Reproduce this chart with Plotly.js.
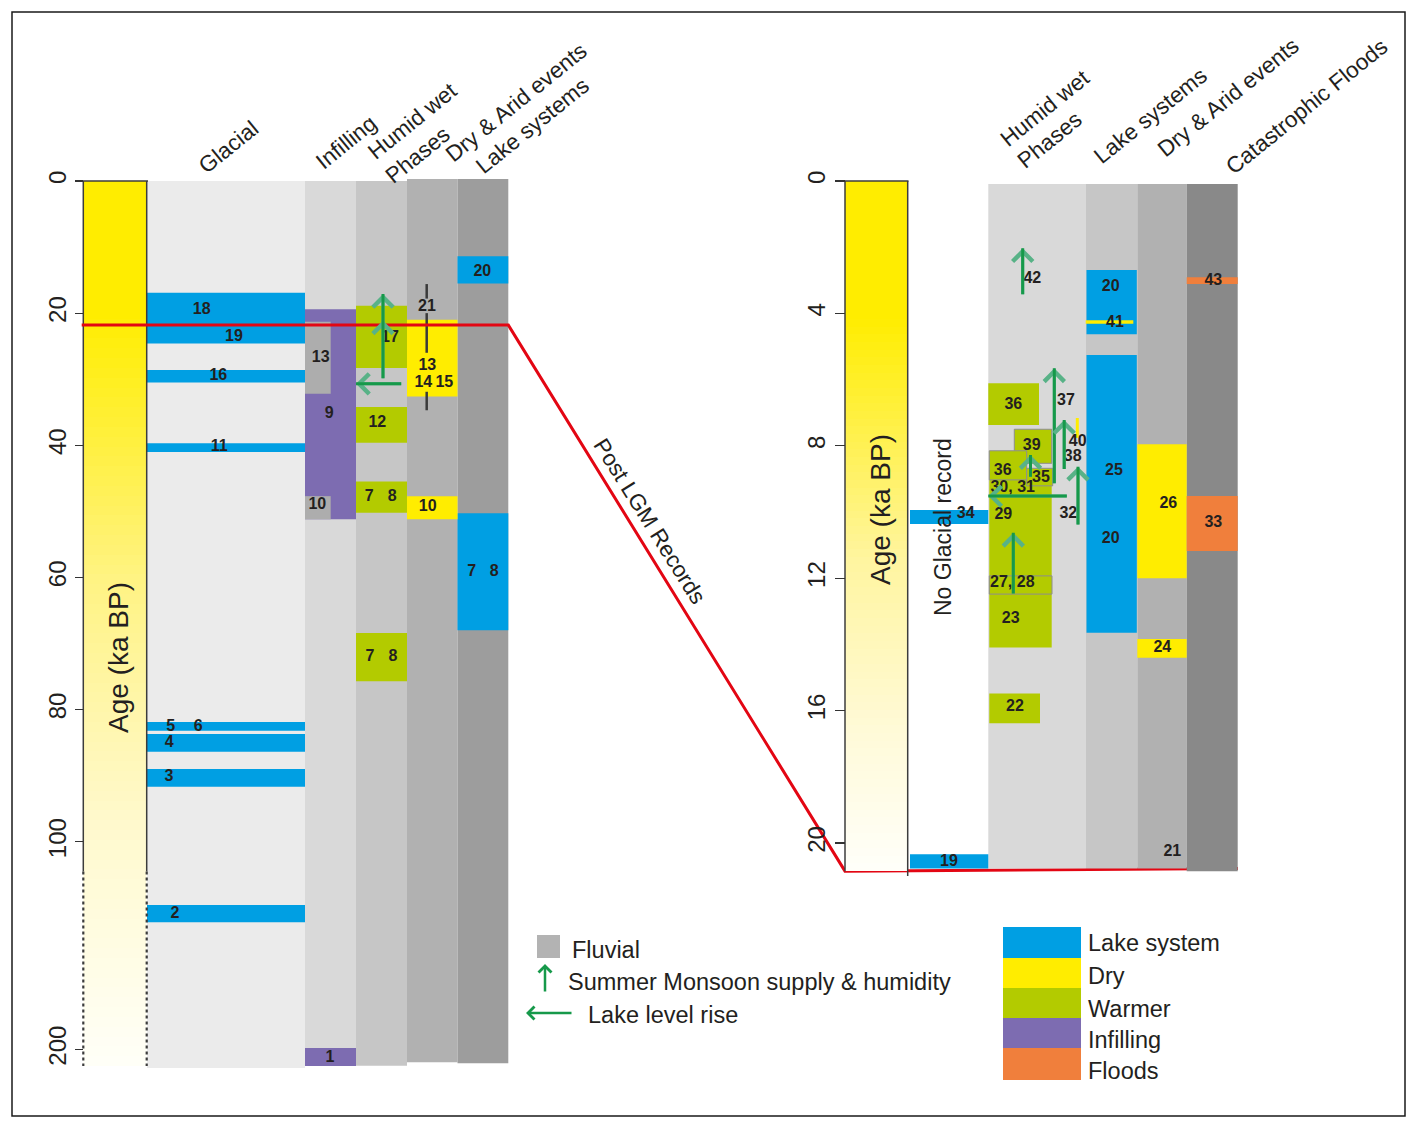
<!DOCTYPE html>
<html>
<head>
<meta charset="utf-8">
<script src="https://cdn.plot.ly/plotly-3.0.1.min.js"></script>
<style>
html,body{margin:0;padding:0;background:#fff;}
#chart{width:1417px;height:1128px;}
</style>
</head>
<body>
<div id="chart"></div>
<script>
// ======================= DATA (ages in ka BP) =======================
// ---- Left panel: full record 0–200 ka (axis compressed beyond 100 ka)
const leftTicks = [0, 20, 40, 60, 80, 100, 200];
const leftColumns = ['Glacial', 'Infilling', 'Humid wet Phases', 'Dry & Arid events', 'Lake systems'];
const leftColumnTop = [0, 0, 0, -0.3, -0.3];
const leftColumnBottom = [209, 208, 207.9, 206.3, 206.7];

const leftLakeColumn = [0, 0, 0, 0, 0, 0, 0, 0, 4, 4];
const leftLakeStart  = [16.9, 21.8, 28.6, 39.7, 81.9, 83.7, 89.0, 130.5, 11.4, 50.3];
const leftLakeEnd    = [21.8, 24.6, 30.5, 41.0, 83.2, 86.4, 91.7, 138.8, 15.5, 68.0];

const leftDryStart = [21.0, 47.7];
const leftDryEnd   = [32.6, 51.2];

const leftWarmStart = [18.9, 34.2, 45.5, 68.4];
const leftWarmEnd   = [28.3, 39.6, 50.2, 75.7];

const leftInfillStart = [19.4, 199.4];
const leftInfillEnd   = [51.2, 208.0];

const leftFluvialStart = [21.3, 47.7];
const leftFluvialEnd   = [32.2, 51.2];

const leftRangeStart = [15.6, 20.0, 31.9];   // age span of record 21
const leftRangeEnd   = [17.8, 26.0, 34.7];

const leftMonsoonFrom = [30.1];
const leftMonsoonTo   = [17.1];
const leftMonsoonEcho = [21.1];
const leftLakeRiseAge = [30.7];

const leftLabels   = ['18','19','16','11','5','6','4','3','2','13','9','10','1','17','12','7','8','7','8','21','13','14','15','10','20','7','8'];
const leftLabelAge = [19.5,23.6,29.5,40.3,82.7,82.6,85.1,90.2,135.0,26.8,35.3,49.1,204.0,23.7,36.6,47.8,47.8,72.0,72.0,19.1,28.0,30.5,30.5,49.4,13.7,59.2,59.2];

// ---- Right panel: post-LGM record 0–21 ka
const rightTicks = [0, 4, 8, 12, 16, 20];
const rightColumns = ['Humid wet Phases', 'Lake systems', 'Dry & Arid events', 'Catastrophic Floods'];
const rightColumnTop = [0.09, 0.09, 0.09, 0.09];
const rightColumnBottom = [20.77, 20.77, 20.77, 20.85];

const rightLakeStart = [9.94, 20.34, 2.69, 5.26];
const rightLakeEnd   = [10.36, 20.77, 4.63, 13.65];

const rightDryStart = [4.21, 7.95, 13.84];
const rightDryEnd   = [4.31, 12.0, 14.40];

const rightFloodStart = [2.91, 9.52];
const rightFloodEnd   = [3.11, 11.18];

const rightWarmStart = [9.03, 6.11, 7.50, 8.15, 8.68, 11.93, 15.48];
const rightWarmEnd   = [14.09, 7.37, 8.53, 9.03, 9.21, 12.48, 16.38];

const rightMonsoonFrom = [3.47, 9.18, 8.75, 10.42, 8.98, 12.51];
const rightMonsoonTo   = [2.03, 5.66, 7.22, 8.63, 8.28, 10.63];
const rightLakeRiseAge = [9.52];
const rightDryMarkStart = [7.16];   // record 40
const rightDryMarkEnd   = [7.76];

const rightLabels   = ['42','20','41','43','36','37','39','40','38','36','35','30, 31','29','32','34','25','20','26','33','27, 28','23','24','22','21','19'];
const rightLabelAge = [2.96,3.19,4.28,3.01,6.77,6.64,8.0,7.88,8.35,8.75,8.98,9.28,10.09,10.06,10.06,8.75,10.82,9.76,10.34,12.15,13.24,14.12,15.9,20.26,20.56];

// LGM connector
const lgmLeftAge = 21.8;
const lgmRightAge = [20.85, 20.77];

// Legend
const legendNames  = ['Lake system', 'Dry', 'Warmer', 'Infilling', 'Floods'];

// ======================= LAYOUT / STYLE =======================
const W = 1417, H = 1128, TOP = 181;
const L_PX = 6.607, BREAK = 100, COMPRESS = 0.3142, R_PX = 33.1;
const FONT = '"Liberation Sans", Arial, Helvetica, sans-serif';
const INK = '#231F20';
const C = {lake:'#009FE3', dry:'#FFED00', warm:'#B3CB00', infill:'#7D6CB1', flood:'#F07F3C', fluvial:'#ADADAD'};
const legendColors = [C.lake, C.dry, C.warm, C.infill, C.flood];

const fL = a => a <= BREAK ? a : BREAK + (a - BREAK) * COMPRESS;
const yRangeL = [(H - TOP) / L_PX, -TOP / L_PX];
const yRangeR = [(H - TOP) / R_PX, -TOP / R_PX];
const rToL = v => { const p = (v - yRangeR[1]) / (yRangeR[0] - yRangeR[1]); return yRangeL[1] + p * (yRangeL[0] - yRangeL[1]); };
const PX = x => x / W, PY = y => 1 - y / H;

const LCOL = [[147,305],[305,356],[356,407],[407,457.5],[457.5,508.3]];
const LCOL_BG = ['#EBEBEB','#D9D9D9','#C6C6C6','#B1B1B1','#9D9D9D'];
const RCOL = [[988.3,1086],[1086,1137.3],[1137.3,1186.7],[1186.7,1237.7]];
const RCOL_BG = ['#D9D9D9','#C6C6C6','#B1B1B1','#898989'];
const R_LAKE_X = [[910,988.3],[910,988.3],[1086.5,1136.8],[1086.5,1136.8]];
const R_DRY_X = [[1085.7,1133.3],[1137.3,1186.7],[1137.3,1186.7]];
const R_FLOOD_X = [[1186.7,1237.7],[1186.7,1237.7]];
const R_WARM_X = [[989.3,1051.7],[988.3,1039],[1014.3,1051.7],[989.3,1026.7],[1026.7,1052.7],[989.3,1052],[989.3,1040]];
const R_WARM_OUTLINE = [false,false,true,true,true,true,false];
const leftLabelX = [201.7,234,218.3,219.3,170.7,198.3,169.3,169,175,320.7,329.3,317.3,330,390,377.3,369.3,392.3,370,393,427,427.3,423.3,444.3,427.7,482.3,471.7,494.3];
const rightLabelX = [1032.3,1110.7,1115,1213.3,1013.3,1066,1031.7,1077.7,1072.7,1002.7,1041,1012.7,1003.3,1068.3,965.7,1114,1110.7,1168.3,1213.3,1012.3,1010.7,1162.3,1015,1172.3,949];
const leftMonsoonX = [383];
const rightMonsoonX = [1022.7, 1054.3, 1064.2, 1078.0, 1030.5, 1013.3];

function rects(xs, starts, ends, color, yaxis, tf, outline) {
  tf = tf || (a => a);
  return {
    type: 'bar', xaxis: 'x', yaxis: yaxis,
    x: xs.map(e => (e[0] + e[1]) / 2), width: xs.map(e => e[1] - e[0]),
    base: starts.map(tf), y: starts.map((s, i) => tf(ends[i]) - tf(s)),
    marker: {color: color, line: outline ? {color: outline.color, width: outline.width} : {width: 0}},
    hoverinfo: 'skip', showlegend: false, textposition: 'none'
  };
}
function gradient(x0, x1, yTop, yBot, yaxis, scale) {
  const N = 90, ys = [], z = [];
  for (let i = 0; i <= N; i++) ys.push(yTop + (yBot - yTop) * i / N);
  for (let i = 0; i < N; i++) z.push([(i + 0.5) / N]);
  return {type:'heatmap', x:[x0, x1], y: ys, z: z, zmin:0, zmax:1, colorscale: scale, showscale:false, hoverinfo:'skip', xaxis:'x', yaxis: yaxis};
}
function line(xs, ys, yaxis, color, width, dash) {
  return {type:'scatter', mode:'lines', x: xs, y: ys, xaxis:'x', yaxis: yaxis, line:{color: color, width: width, dash: dash || 'solid'}, hoverinfo:'skip', showlegend:false};
}

const traces = [];
// gradient age bars
traces.push(gradient(83.3, 146.7, 0, fL(208), 'y',
  [[0,'#FFED00'],[0.15,'#FFED00'],[0.45,'#FFF383'],[0.72,'#FFF9CC'],[1,'#FFFFF8']]));
traces.push(gradient(845, 907.7, 0, 20.85, 'y2',
  [[0,'#FFED00'],[0.2,'#FFED00'],[0.55,'#FFF5A0'],[0.8,'#FFFAD8'],[1,'#FFFFFA']]));

// column backgrounds
traces.push(rects(LCOL, leftColumnTop, leftColumnBottom, LCOL_BG, 'y', fL));
traces.push(rects(RCOL, rightColumnTop, rightColumnBottom, RCOL_BG, 'y2'));

// left panel records
traces.push(rects(leftLakeColumn.map(c => LCOL[c]), leftLakeStart, leftLakeEnd, C.lake, 'y', fL));
traces.push(rects(leftDryStart.map(() => LCOL[3]), leftDryStart, leftDryEnd, C.dry, 'y', fL));
traces.push(rects(leftWarmStart.map(() => LCOL[2]), leftWarmStart, leftWarmEnd, C.warm, 'y', fL));
traces.push(rects(leftInfillStart.map(() => LCOL[1]), leftInfillStart, leftInfillEnd, C.infill, 'y', fL));
traces.push(rects(leftFluvialStart.map(() => [305, 330.7]), leftFluvialStart, leftFluvialEnd, C.fluvial, 'y', fL));

// right panel records
traces.push(rects(R_LAKE_X, rightLakeStart, rightLakeEnd, C.lake, 'y2'));
traces.push(rects(R_DRY_X, rightDryStart, rightDryEnd, C.dry, 'y2'));
traces.push(rects(R_FLOOD_X, rightFloodStart, rightFloodEnd, C.flood, 'y2'));
traces.push(rects(R_WARM_X.filter((e,i)=>!R_WARM_OUTLINE[i]), rightWarmStart.filter((e,i)=>!R_WARM_OUTLINE[i]), rightWarmEnd.filter((e,i)=>!R_WARM_OUTLINE[i]), C.warm, 'y2'));
traces.push(rects(R_WARM_X.filter((e,i)=>R_WARM_OUTLINE[i]), rightWarmStart.filter((e,i)=>R_WARM_OUTLINE[i]), rightWarmEnd.filter((e,i)=>R_WARM_OUTLINE[i]), C.warm, 'y2', null, {color:'#8E8E8E', width:1}));

// record 21 range line
{
  const xs = [], ys = [];
  leftRangeStart.forEach((s, i) => { xs.push(426.7, 426.7, null); ys.push(fL(s), fL(leftRangeEnd[i]), null); });
  traces.push(line(xs, ys, 'y', '#3A3A3A', 2.5));
}
// record 40 dry mark
traces.push(line([1077.3, 1077.3], [rightDryMarkStart[0], rightDryMarkEnd[0]], 'y2', C.dry, 3));

// age bar outlines
const solidEndL = fL(114.3), dotEndL = fL(208);
traces.push(line([83.3, 83.3, null, 146.7, 146.7, null, 82, 148], [solidEndL, 0, null, 0, solidEndL, null, 0, 0], 'y', '#3C3C3C', 1.5));
traces.push(line([83.3, 83.3, null, 146.7, 146.7], [solidEndL, dotEndL, null, solidEndL, dotEndL], 'y', '#3C3C3C', 2.2, 'dot'));
traces.push(line([845, 845, null, 907.7, 907.7, null, 844, 908.5], [20.85, 0, null, 0, 21.0, null, 0, 0], 'y2', '#3C3C3C', 1.5));

// LGM connector
traces.push(line([81.7, 508.3, 845, 1238], [lgmLeftAge, lgmLeftAge, rToL(lgmRightAge[0]), rToL(lgmRightAge[1])], 'y', '#E30613', 3));

// record labels
const labelFont = {family: FONT, size: 16, color: INK, weight: 'bold'};
traces.push({type:'scatter', mode:'text', x: leftLabelX, y: leftLabelAge.map(fL), text: leftLabels, textposition:'middle center', textfont: labelFont, xaxis:'x', yaxis:'y', hoverinfo:'skip', showlegend:false});
traces.push({type:'scatter', mode:'text', x: rightLabelX, y: rightLabelAge, text: rightLabels, textposition:'middle center', textfont: labelFont, xaxis:'x', yaxis:'y2', hoverinfo:'skip', showlegend:false});

// ---------- annotations ----------
const ann = [];
const HEAD = '#58B287', SHAFT = '#16994A';
function arrow(x, from, to, yref, headOnly) {
  const base = {x: x, y: to, ax: x, ay: from, xref:'x', yref: yref, axref:'x', ayref: yref, text:'', showarrow:true, standoff:0, startstandoff:0};
  ann.push(Object.assign({}, base, {arrowhead:4, arrowsize:1.3, arrowwidth:3, arrowcolor: HEAD}));
  if (!headOnly) ann.push(Object.assign({}, base, {arrowhead:0, arrowwidth:3, arrowcolor: SHAFT}));
}
function harrow(xFrom, xTo, y, yref) {
  const base = {x: xTo, y: y, ax: xFrom, ay: y, xref:'x', yref: yref, axref:'x', ayref: yref, text:'', showarrow:true, standoff:0, startstandoff:0};
  ann.push(Object.assign({}, base, {arrowhead:4, arrowsize:1.3, arrowwidth:3, arrowcolor: HEAD}));
  ann.push(Object.assign({}, base, {arrowhead:0, arrowwidth:3, arrowcolor: SHAFT}));
}
leftMonsoonX.forEach((x, i) => {
  arrow(x, fL(leftMonsoonEcho[i]) + 1.4, fL(leftMonsoonEcho[i]), 'y', true);
  arrow(x, fL(leftMonsoonFrom[i]), fL(leftMonsoonTo[i]), 'y');
});
harrow(402.7, 356, fL(leftLakeRiseAge[0]), 'y');
rightMonsoonX.forEach((x, i) => arrow(x, rightMonsoonFrom[i], rightMonsoonTo[i], 'y2'));
harrow(1068.3, 988.3, rightLakeRiseAge[0], 'y2');

function txt(text, x, y, size, angle, extra) {
  ann.push(Object.assign({text: text, x: PX(x), y: PY(y), xref:'paper', yref:'paper', showarrow:false,
    xanchor:'center', yanchor:'middle', textangle: angle || 0, font:{family: FONT, size: size, color: INK}}, extra || {}));
}
// column headers
const HA = -39, HS = 22.5;
txt(leftColumns[0], 228, 147, HS, HA);
txt(leftColumns[1], 346, 142, HS, HA);
txt('Humid wet', 412, 121, HS, HA);
txt('Phases', 417, 155, HS, HA);
txt(leftColumns[3], 516, 102, HS, HA);
txt(leftColumns[4], 533, 126, HS, HA);
txt('Humid wet', 1045, 109, HS, HA);
txt('Phases', 1049, 140, HS, HA);
txt(rightColumns[1], 1151, 116, HS, HA);
txt(rightColumns[2], 1228, 97, HS, HA);
txt(rightColumns[3], 1307, 107, HS, HA);
// axis titles & notes
txt('Age (ka BP)', 118, 658, 28, -90);
txt('Age (ka BP)', 880, 510, 28, -90);
txt('No Glacial record', 943, 527, 23, -90);
txt('Post LGM Records', 650, 521, 22.5, 58);

// legend
const shapes = [];
shapes.push({type:'rect', xref:'paper', yref:'paper', x0:PX(12), x1:PX(1405), y0:PY(1116), y1:PY(12), line:{color:'#1A1A1A', width:1.5}});
shapes.push({type:'rect', xref:'paper', yref:'paper', x0:PX(537), x1:PX(560), y0:PY(958), y1:PY(935), fillcolor:'#B3B3B3', line:{width:0}});
txt('Fluvial', 570, 950, 23.5, 0, {xanchor:'left'});
ann.push({x:PX(545), y:PY(964), xref:'paper', yref:'paper', ax:0, ay:29, text:'', showarrow:true, arrowhead:4, arrowsize:1.0, arrowwidth:2.5, arrowcolor:SHAFT, standoff:0});
txt('Summer Monsoon supply & humidity', 566, 982, 23.5, 0, {xanchor:'left'});
ann.push({x:PX(526), y:PY(1013), xref:'paper', yref:'paper', ax:47, ay:0, text:'', showarrow:true, arrowhead:4, arrowsize:1.0, arrowwidth:2.5, arrowcolor:SHAFT, standoff:0});
txt('Lake level rise', 586, 1015, 23.5, 0, {xanchor:'left'});
const legTop = [927, 958, 988, 1018, 1048], legBot = [958, 988, 1018, 1048, 1080];
const legTextY = [943, 976, 1009, 1040, 1071];
legendNames.forEach((n, i) => {
  shapes.push({type:'rect', xref:'paper', yref:'paper', x0:PX(1003), x1:PX(1081), y0:PY(legBot[i]), y1:PY(legTop[i]), fillcolor: legendColors[i], line:{width:0}});
  txt(n, 1086, legTextY[i], 23.5, 0, {xanchor:'left'});
});

const tickFont = {family: FONT, size: 24, color: INK};
const layout = {
  width: W, height: H, autosize: false,
  margin: {l:0, r:0, t:0, b:0, pad:0},
  paper_bgcolor: '#FFFFFF', plot_bgcolor: 'rgba(0,0,0,0)',
  barmode: 'overlay', showlegend: false,
  xaxis: {range:[0, W], domain:[0,1], visible:false, fixedrange:true},
  yaxis: {domain:[0,1], range: yRangeL, anchor:'free', position: PX(83.3), side:'left',
    showgrid:false, zeroline:false, showline:false, ticks:'outside', ticklen:8, tickwidth:1.2, tickcolor:'#333',
    tickmode:'array', tickvals: leftTicks.map(fL), ticktext: leftTicks.map(String), tickangle:-90, tickfont: tickFont, fixedrange:true},
  yaxis2: {domain:[0,1], range: yRangeR, anchor:'free', position: PX(845), side:'left', overlaying:'y',
    showgrid:false, zeroline:false, showline:false, ticks:'outside', ticklen:10, tickwidth:1.2, tickcolor:'#333',
    tickmode:'array', tickvals: rightTicks, ticktext: rightTicks.map(String), tickangle:-90, tickfont: tickFont, fixedrange:true},
  annotations: ann,
  shapes: shapes
};
Plotly.newPlot('chart', traces, layout, {displayModeBar:false, staticPlot:true});
</script>
</body>
</html>
